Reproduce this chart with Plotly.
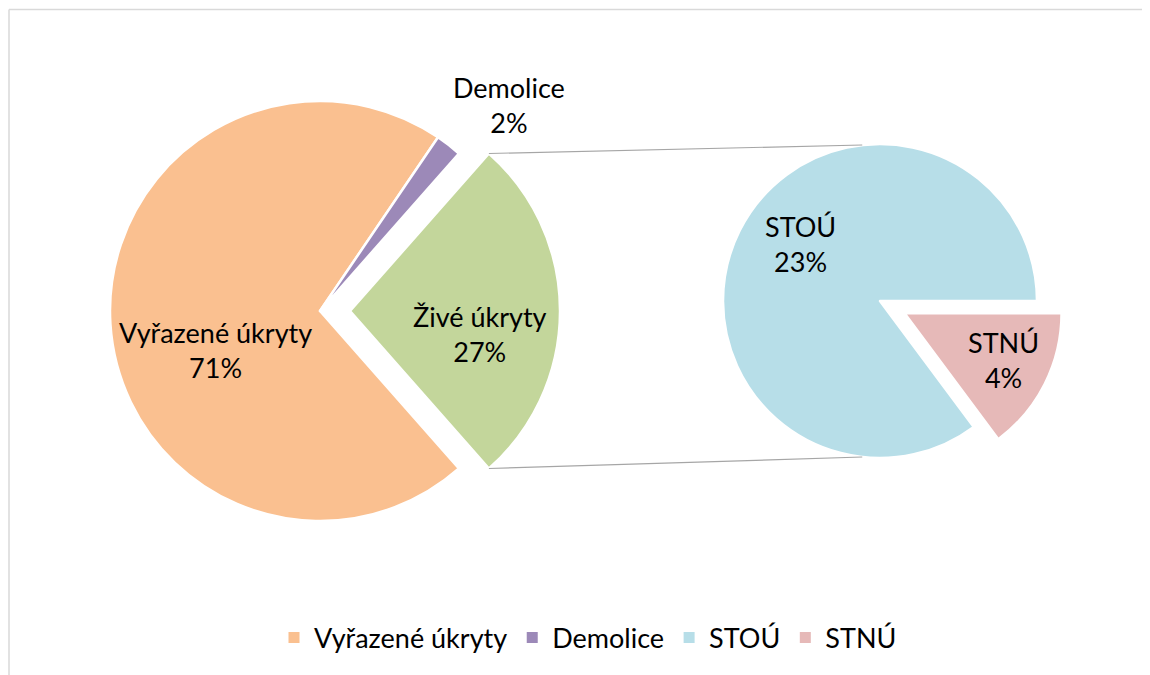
import math
import plotly.graph_objects as go

# ---- data ----
main_labels = ["Živé úkryty", "Vyřazené úkryty", "Demolice"]
main_values = [27, 71, 2]
sub_labels = ["STNÚ", "STOÚ"]
sub_values = [4, 23]
legend_labels = ["Vyřazené úkryty", "Demolice", "STOÚ", "STNÚ"]

colors = {
    "Vyřazené úkryty": "#FAC090",
    "Demolice": "#9C89B8",
    "Živé úkryty": "#C3D69B",
    "STOÚ": "#B7DEE8",
    "STNÚ": "#E6B9B8",
}

# page has an 8px body margin; figure fills the rest of the window
OFF = 8
W, H = 1150 - OFF, 675 - OFF
FONT = "Lato"
FS = 27

# ---- geometry (screen pixels, converted with OFF) ----
main_pull = [0.143, 0, 0]
sub_pull = [0.175, 0]
L_cx, L_cy, L_r = 320 - OFF, 311 - OFF, 210
R_cx, R_cy, R_r = 880 - OFF, 301 - OFF, 157
L_box = L_r * (2 + 2 * max(main_pull))
R_box = R_r * (2 + 2 * max(sub_pull))

def dom(cx, cy, box):
    return dict(x=[(cx - box / 2) / W, (cx + box / 2) / W],
                y=[(H - cy - box / 2) / H, (H - cy + box / 2) / H])

tot_main = sum(main_values)
main_rot = 90 - main_values[0] / tot_main * 360 / 2
sub_rot = 90

fig = go.Figure()
fig.add_trace(go.Pie(
    labels=main_labels, values=main_values, sort=False, direction="clockwise",
    rotation=main_rot, pull=main_pull, domain=dom(L_cx, L_cy, L_box),
    marker=dict(colors=[colors[l] for l in main_labels], line=dict(color="white", width=2.5)),
    textinfo="none", showlegend=False, hoverinfo="label+percent",
))
fig.add_trace(go.Pie(
    labels=sub_labels, values=sub_values, sort=False, direction="clockwise",
    rotation=sub_rot, pull=sub_pull, domain=dom(R_cx, R_cy, R_box),
    marker=dict(colors=[colors[l] for l in sub_labels], line=dict(color="white", width=2.5)),
    textinfo="none", showlegend=False, hoverinfo="label+value",
))

for lab in legend_labels:
    fig.add_trace(go.Scatter(
        x=[None], y=[None], mode="markers", name=lab,
        marker=dict(symbol="square", size=11, color=colors[lab]),
    ))

# connector lines from the pulled slice to the secondary pie
mid = math.radians(90)
ox = L_cx + main_pull[0] * L_r * math.sin(mid)
oy = L_cy - main_pull[0] * L_r * math.cos(mid)
a_top = math.radians(main_rot)
a_bot = math.radians(main_rot + main_values[0] / tot_main * 360)
p1 = (ox + L_r * math.sin(a_top), oy - L_r * math.cos(a_top))
p2 = (ox + L_r * math.sin(a_bot), oy - L_r * math.cos(a_bot))
q1a, q2a = math.radians(-6.5), math.radians(186.5)
q1 = (R_cx + R_r * math.sin(q1a), R_cy - R_r * math.cos(q1a))
q2 = (R_cx + R_r * math.sin(q2a), R_cy - R_r * math.cos(q2a))

def px(p):
    return p[0] / W, (H - p[1]) / H

shapes = []
for a, b in [(p1, q1), (p2, q2)]:
    (x0, y0), (x1, y1) = px(a), px(b)
    shapes.append(dict(type="line", xref="paper", yref="paper", x0=x0, y0=y0, x1=x1, y1=y1,
                       line=dict(color="#A6A6A6", width=1.2)))
# chart-area border (left and top edges visible in the frame)
bx, by = 1 / W, (H - 1.5) / H
shapes.append(dict(type="line", xref="paper", yref="paper", x0=bx, x1=bx, y0=0, y1=by,
                   line=dict(color="#D9D9D9", width=1.5)))
shapes.append(dict(type="line", xref="paper", yref="paper", x0=bx, x1=1, y0=by, y1=by,
                   line=dict(color="#D9D9D9", width=1.5)))

def pct(v, t):
    return f"{round(v / t * 100)}%"

label_pos = {
    "Vyřazené úkryty": (215, 350, main_values[1], tot_main),
    "Živé úkryty": (480, 334, main_values[0], tot_main),
    "Demolice": (509, 105, main_values[2], tot_main),
    "STOÚ": (800, 244, sub_values[1], tot_main),
    "STNÚ": (1003, 360, sub_values[0], tot_main),
}
annotations = []
for lab, (x, y, v, t) in label_pos.items():
    annotations.append(dict(
        x=(x - OFF) / W, y=(H - (y - OFF)) / H, xref="paper", yref="paper", showarrow=False,
        text=f"{lab}<br>{pct(v, t)}", align="center", xanchor="center", yanchor="middle",
        font=dict(family=FONT, size=FS, color="#000000"),
    ))

fig.update_layout(
    width=W, height=H, margin=dict(l=0, r=0, t=0, b=0),
    paper_bgcolor="white", plot_bgcolor="white",
    xaxis=dict(visible=False), yaxis=dict(visible=False),
    shapes=shapes, annotations=annotations,
    legend=dict(orientation="h", x=(588 - OFF) / W, xanchor="center", y=(H - (638 - OFF)) / H,
                yanchor="middle", font=dict(family=FONT, size=FS, color="#000000"),
                itemclick=False),
    font=dict(family=FONT),
)

fig.write_html("out.html")
